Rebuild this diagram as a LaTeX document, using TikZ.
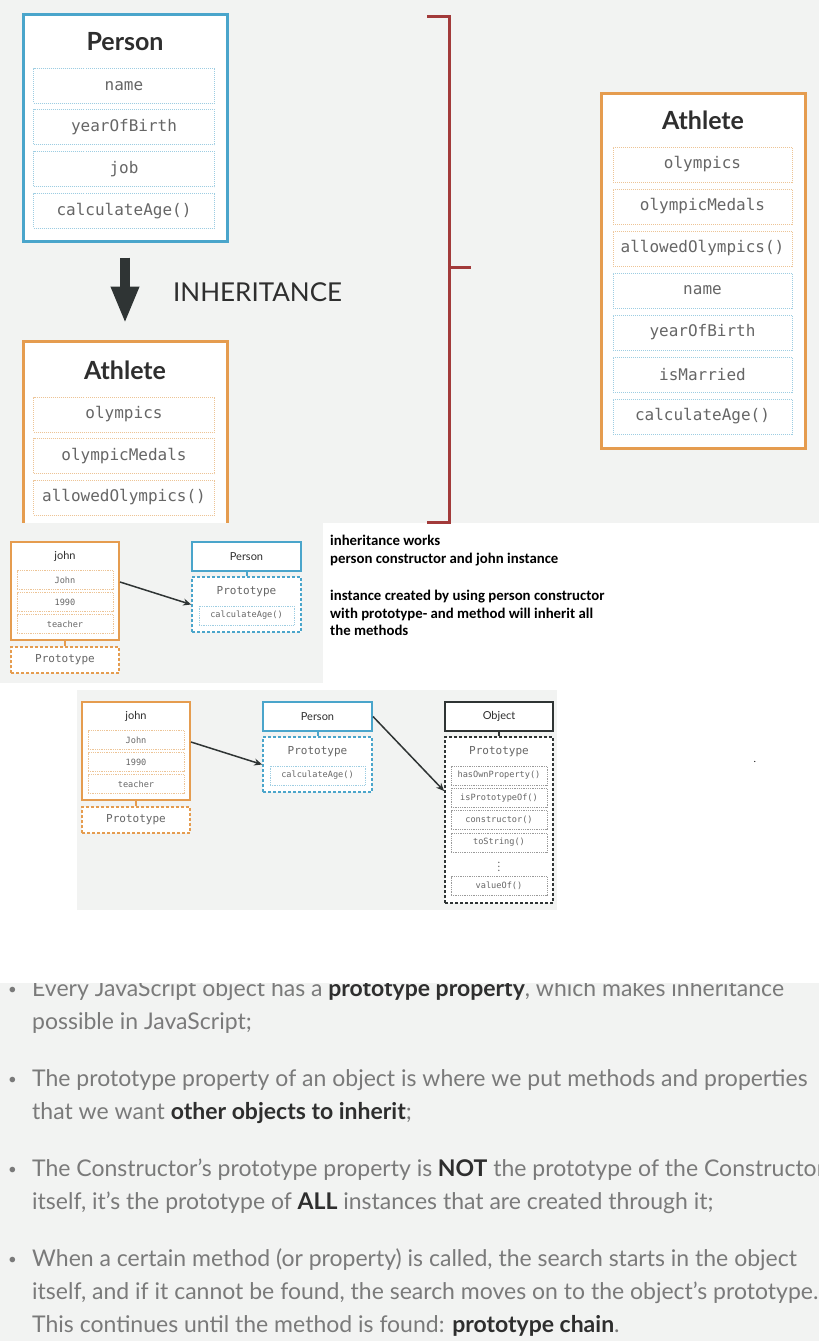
\documentclass[tikz,border=0pt]{standalone}
\usepackage{fontspec}
\setmainfont{Lato}
\newfontfamily\codefont{DejaVu Sans Mono}
\newfontfamily\notefont{Carlito}
\usetikzlibrary{positioning, arrows.meta}

\definecolor{panelgray}{HTML}{F2F3F2}
\definecolor{personblue}{HTML}{4AA5CB}
\definecolor{athleteorange}{HTML}{E59C4F}
\definecolor{bracketred}{HTML}{A23A3A}
\definecolor{arrowdark}{HTML}{2F3434}
\definecolor{fieldblue}{HTML}{9DCDE2}
\definecolor{fieldorange}{HTML}{EDC496}
\definecolor{fieldgray}{HTML}{9A9A9A}
\definecolor{codegray}{HTML}{666666}
\definecolor{textgray}{HTML}{7A7A7A}
\definecolor{textdark}{HTML}{2E2E2E}

\newcommand{\darkword}[1]{{\bfseries\color{textdark}#1}}

\tikzset{
    classbox/.style={draw=#1, line width=3pt, fill=white, inner sep=0pt},
    classtitle/.style={font=\bfseries\fontsize{25}{25}\selectfont, text=textdark},
    field/.style={draw=#1, densely dotted, line width=1pt, fill=white, inner sep=0pt,
        minimum height=35, text=codegray, font=\codefont\fontsize{16}{16}\selectfont},
    objbox/.style={draw=#1, line width=2pt, fill=white, inner sep=0pt,
        text=textdark, font=\fontsize{11}{11}\selectfont},
    protobox/.style={draw=#1, dash pattern=on 3pt off 2pt, line width=1.8pt, fill=white, inner sep=0pt},
    protolabel/.style={text=codegray, font=\codefont\fontsize{11}{11}\selectfont},
    smallfield/.style={draw=#1, densely dotted, line width=0.8pt, fill=white, inner sep=0pt,
        minimum width=96, minimum height=19, text=codegray, font=\codefont\fontsize{8.6}{8.6}\selectfont},
    protolink/.style={draw=#1, line width=2pt},
    chainarrow/.style={draw=arrowdark, line width=1.5pt, -{Stealth[length=8pt, width=7pt]}},
    note/.style={anchor=base west, inner sep=0pt, font=\notefont\bfseries\fontsize{14.8}{14.8}\selectfont},
    bulletline/.style={anchor=base west, inner sep=0pt, text=textgray, font=\fontsize{23}{23}\selectfont},
    bulletdot/.style={anchor=base west, inner sep=0pt, text=textgray, font=\fontsize{15}{15}\selectfont},
}

% john -> Person prototype, drawn twice
\newcommand{\protochain}{%
    \node (john) [objbox=athleteorange, minimum width=108, minimum height=98] at (54,49) {};
    \node (johntitle) [objbox=white, draw=none] at (54,14) {john};
    \foreach \t [count=\i] in {John, 1990, teacher}
        \node (jf\i) [smallfield=fieldorange] at (54,16+22*\i) {\t};
    \node (jproto) [protobox=athleteorange, minimum width=108, minimum height=26] at (54,118) {};
    \node (jprotolabel) [protolabel] at (54,118) {Prototype};
    \draw [protolink=athleteorange] (john.south) -- (jproto.north);

    \node (person) [objbox=personblue, minimum width=109, minimum height=29] at (235.5,14.5) {Person};
    \node (pproto) [protobox=personblue, minimum width=109, minimum height=55] at (235.5,62.5) {};
    \node (pprotolabel) [protolabel] at (235.5,50) {Prototype};
    \node (pf1) [smallfield=fieldblue, minimum width=95] at (235.5,73.5) {calculateAge()};
    \draw [protolink=personblue] (person.south) -- (pproto.north);
    \draw [chainarrow] ([yshift=9pt]john.east) -- (pproto.west);
}

\begin{document}
\begin{tikzpicture}[x=1pt, y=-1pt]
    \useasboundingbox (0,0) rectangle (819,1341);
    \fill [white] (0,0) rectangle (819,1341);

    % top panel
    \begin{scope}
        \clip (0,0) rectangle (819,523);
        \fill [panelgray] (0,0) rectangle (819,523);

        \node (person) [classbox=personblue, minimum width=204, minimum height=227] at (125,127.5) {};
        \node (persontitle) [classtitle] at (125,42) {Person};
        \foreach \t [count=\i] in {name, yearOfBirth, job, calculateAge()}
            \node (pf\i) [field=fieldblue, minimum width=181] at (124,44+41.7*\i) {\t};

        \node (athlete) [classbox=athleteorange, minimum width=204, minimum height=218] at (125,450) {};
        \node (athletetitle) [classtitle] at (125,370) {Athlete};
        \foreach \t [count=\i] in {olympics, olympicMedals, allowedOlympics()}
            \node (af\i) [field=fieldorange, minimum width=181] at (124,373+41.5*\i) {\t};

        \draw [arrowdark, line width=10pt, -{Triangle[length=37pt, width=26pt]}]
            ([yshift=-15pt]person.south) -- ([yshift=16pt]athlete.north);
        \node (inh) [anchor=west, inner sep=0pt, text=textdark, font=\fontsize{26}{26}\selectfont]
            at (173,292) {INHERITANCE};

        % bracket
        \draw [bracketred, line width=3pt] (427,16) -- (449,16) -- (449,522) -- (427,522);
        \draw [bracketred, line width=3pt] (449,267) -- (471,267);

        \node (full) [classbox=athleteorange, minimum width=204, minimum height=355] at (703,270.5) {};
        \node (fulltitle) [classtitle] at (703,120) {Athlete};
        \foreach \t [count=\i] in {olympics, olympicMedals, allowedOlympics()}
            \node (ff\i) [field=fieldorange, minimum width=179] at (702.5,122.5+42*\i) {\t};
        \foreach \t [count=\i from 4] in {name, yearOfBirth, isMarried, calculateAge()}
            \node (ff\i) [field=fieldblue, minimum width=179] at (702.5,122.5+42*\i) {\t};
    \end{scope}

    % first chain
    \fill [panelgray] (0,523) rectangle (323,683);
    \begin{scope}[shift={(11,542)}, name prefix=a-]
        \protochain
    \end{scope}

    \node (note1) [note] at (330,545) {inheritance works};
    \node (note2) [note] at (330,563) {person constructor and john instance};
    \node (note3) [note] at (330,600) {instance created by using person constructor};
    \node (note4) [note] at (330,618) {with prototype- and method will inherit all};
    \node (note5) [note] at (330,635) {the methods};

    % second chain
    \fill [panelgray] (77,690) rectangle (557,910);
    \begin{scope}[shift={(82,702)}, name prefix=b-]
        \protochain
        \node (object) [objbox=arrowdark, minimum width=108, minimum height=29] at (417,14.5) {Object};
        \node (oproto) [protobox=arrowdark, minimum width=108, minimum height=166] at (417,118) {};
        \node (oprotolabel) [protolabel] at (417,50) {Prototype};
        \foreach \t [count=\i] in {hasOwnProperty(), isPrototypeOf(), constructor(), toString()}
            \node (of\i) [smallfield=fieldgray] at (417,51.2+22.3*\i) {\t};
        \node (odots) [text=codegray, font=\fontsize{11}{11}\selectfont] at (417,162) {$\vdots$};
        \node (of5) [smallfield=fieldgray] at (417,184) {valueOf()};
        \draw [protolink=arrowdark] (object.south) -- (oproto.north);
        \draw [chainarrow] (person.east) -- ([yshift=29pt]oproto.west);
    \end{scope}
    \node (dot) [font=\notefont\fontsize{10}{10}\selectfont] at (755,762) {.};

    % bullet points
    \begin{scope}
        \clip (0,983) rectangle (819,1341);
        \fill [panelgray] (0,983) rectangle (819,1341);
        \foreach \y in {996, 1086, 1176, 1266}
            \node [bulletdot] at (8,\y-2) {•};
        \node (l1) [bulletline] at (32,996) {Every JavaScript object has a \darkword{prototype property}, which makes inheritance};
        \node (l2) [bulletline] at (32,1029) {possible in JavaScript;};
        \node (l3) [bulletline] at (32,1086) {The prototype property of an object is where we put methods and properties};
        \node (l4) [bulletline] at (32,1119) {that we want \darkword{other objects to inherit};};
        \node (l5) [bulletline] at (32,1176) {The Constructor’s prototype property is \darkword{NOT} the prototype of the Constructor};
        \node (l6) [bulletline] at (32,1209) {itself, it’s the prototype of \darkword{ALL} instances that are created through it;};
        \node (l7) [bulletline] at (32,1266) {When a certain method (or property) is called, the search starts in the object};
        \node (l8) [bulletline] at (32,1299) {itself, and if it cannot be found, the search moves on to the object’s prototype.};
        \node (l9) [bulletline] at (32,1332) {This continues until the method is found: \darkword{prototype chain}.};
    \end{scope}
\end{tikzpicture}
\end{document}
